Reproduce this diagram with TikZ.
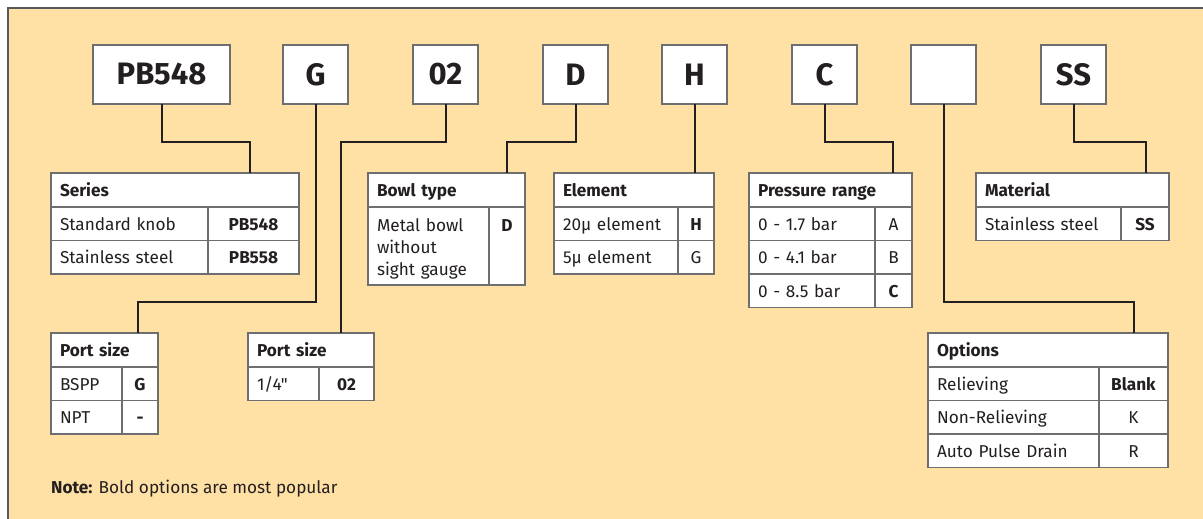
\documentclass[tikz,border=0pt]{standalone}
\usepackage{fontspec}
\setmainfont{Fira Sans}[Ligatures=TeXOff]
\definecolor{peach}{HTML}{FFE0A5}
\definecolor{ink}{HTML}{231F20}
\definecolor{rule}{HTML}{6D6E70}
\definecolor{frame}{HTML}{58595B}

\begin{document}
\begin{tikzpicture}[x=1pt, y=-1pt,
  code/.style={draw=rule, fill=white, line width=1.2pt, outer sep=0pt,
    minimum width=65pt, minimum height=59pt, inner sep=0pt, text=ink,
    font=\fontsize{31}{31}\selectfont\bfseries},
  hd/.style={draw=rule, fill=white, line width=1.2pt, outer sep=0pt,
    anchor=north west, minimum height=34pt, inner xsep=9pt, inner ysep=0pt,
    text width=#1, text height=14.5pt, text depth=1.5pt, align=left, text=ink,
    font=\fontsize{17.2}{22}\selectfont\bfseries},
  cell/.style={draw=rule, fill=white, line width=1.2pt, outer sep=0pt,
    anchor=north west, minimum height=33.5pt, inner xsep=9pt, inner ysep=0pt,
    text width=#1, text height=14.5pt, text depth=1.5pt, align=left, text=ink,
    font=\fontsize{17.2}{22}\selectfont},
  val/.style={cell=#1, align=center},
  tall/.style={minimum height=78pt, text height=, text depth=},
  link/.style={draw=ink, line width=2pt}]

  \path[use as bounding box] (0,0) rectangle (1203,519);
  \draw[draw=frame, fill=peach, line width=1.2pt] (8,8) rectangle (1230,540);

  % code boxes
  \node[code, minimum width=137pt] (cPB) at (161.5,74.5) {PB548};
  \node[code] (cG) at (315.5,74.5) {G};
  \node[code] (c02) at (445.5,74.5) {02};
  \node[code] (cD) at (575.5,74.5) {D};
  \node[code] (cH) at (694.5,74.5) {H};
  \node[code] (cC) at (824.5,74.5) {C};
  \node[code] (cX) at (943.5,74.5) {};
  \node[code] (cSS) at (1073.5,74.5) {SS};

  % series
  \node[hd=230pt] (series) at (51,173) {Series};
  \node[cell=139pt] (series1) at (series.south west) {Standard knob};
  \node[val=73pt] (series1v) at (series1.north east) {\textbf{PB548}};
  \node[cell=139pt] (series2) at (series1.south west) {Stainless steel};
  \node[val=73pt] (series2v) at (series2.north east) {\textbf{PB558}};

  % bowl type
  \node[hd=139pt] (bowl) at (368,173) {Bowl type};
  \node[cell=103pt, tall] (bowl1) at (bowl.south west)
    {\rule{0pt}{21pt}Metal bowl\\without\\sight gauge\strut};
  \node[val=18pt, tall] (bowl1v) at (bowl1.north east)
    {\rule{0pt}{21pt}\textbf{D}\\\mbox{}\\\mbox{}\strut};

  % element
  \node[hd=142pt] (elem) at (554,173) {Element};
  \node[cell=106pt] (elem1) at (elem.south west) {20μ element};
  \node[val=18pt] (elem1v) at (elem1.north east) {\textbf{H}};
  \node[cell=106pt] (elem2) at (elem1.south west) {5μ element};
  \node[val=18pt] (elem2v) at (elem2.north east) {G};

  % pressure range
  \node[hd=145pt] (press) at (749,173) {Pressure range};
  \node[cell=108pt] (press1) at (press.south west) {0 - 1.7 bar};
  \node[val=19pt] (press1v) at (press1.north east) {A};
  \node[cell=108pt] (press2) at (press1.south west) {0 - 4.1 bar};
  \node[val=19pt] (press2v) at (press2.north east) {B};
  \node[cell=108pt] (press3) at (press2.south west) {0 - 8.5 bar};
  \node[val=19pt] (press3v) at (press3.north east) {\textbf{C}};

  % material
  \node[hd=175pt] (mat) at (976,173) {Material};
  \node[cell=127pt] (mat1) at (mat.south west) {Stainless steel};
  \node[val=30pt] (mat1v) at (mat1.north east) {\textbf{SS}};

  % port sizes
  \node[hd=89pt] (port1) at (51,333) {Port size};
  \node[cell=53pt] (port11) at (port1.south west) {BSPP};
  \node[val=18pt] (port11v) at (port11.north east) {\textbf{G}};
  \node[cell=53pt] (port12) at (port11.south west) {NPT};
  \node[val=18pt] (port12v) at (port12.north east) {\textbf{-}};

  \node[hd=108pt] (port2) at (248,333) {Port size};
  \node[cell=53pt] (port21) at (port2.south west) {1/4"};
  \node[val=37pt] (port21v) at (port21.north east) {\textbf{02}};

  % options
  \node[hd=222pt] (opt) at (928,333) {Options};
  \node[cell=153pt] (opt1) at (opt.south west) {Relieving};
  \node[val=51pt] (opt1v) at (opt1.north east) {\textbf{Blank}};
  \node[cell=153pt] (opt2) at (opt1.south west) {Non-Relieving};
  \node[val=51pt] (opt2v) at (opt2.north east) {K};
  \node[cell=153pt] (opt3) at (opt2.south west) {Auto Pulse Drain};
  \node[val=51pt] (opt3v) at (opt3.north east) {R};

  \node[anchor=base west, inner sep=0pt, text=ink, font=\fontsize{17.2}{22}\selectfont]
    (note) at (51,493) {\textbf{Note:} Bold options are most popular};

  % links
  \draw[link] (cPB.south) -- ++(0,38) -| ([xshift=199pt]series.north west);
  \draw[link] (cG.south) -- ++(0,198) -| ([xshift=87pt]port1.north west);
  \draw[link] (c02.south) -- ++(0,38) -| ([xshift=93pt]port2.north west);
  \draw[link] (cD.south) -- ++(0,38) -| ([xshift=139pt]bowl.north west);
  \draw[link] (cH.south) -- (cH.south |- elem.north);
  \draw[link] (cC.south) -- ++(0,38) -| ([xshift=144pt]press.north west);
  \draw[link] (cX.south) -- ++(0,198) -| ([xshift=206pt]opt.north west);
  \draw[link] (cSS.south) -- ++(0,38) -| ([xshift=170pt]mat.north west);
\end{tikzpicture}
\end{document}
